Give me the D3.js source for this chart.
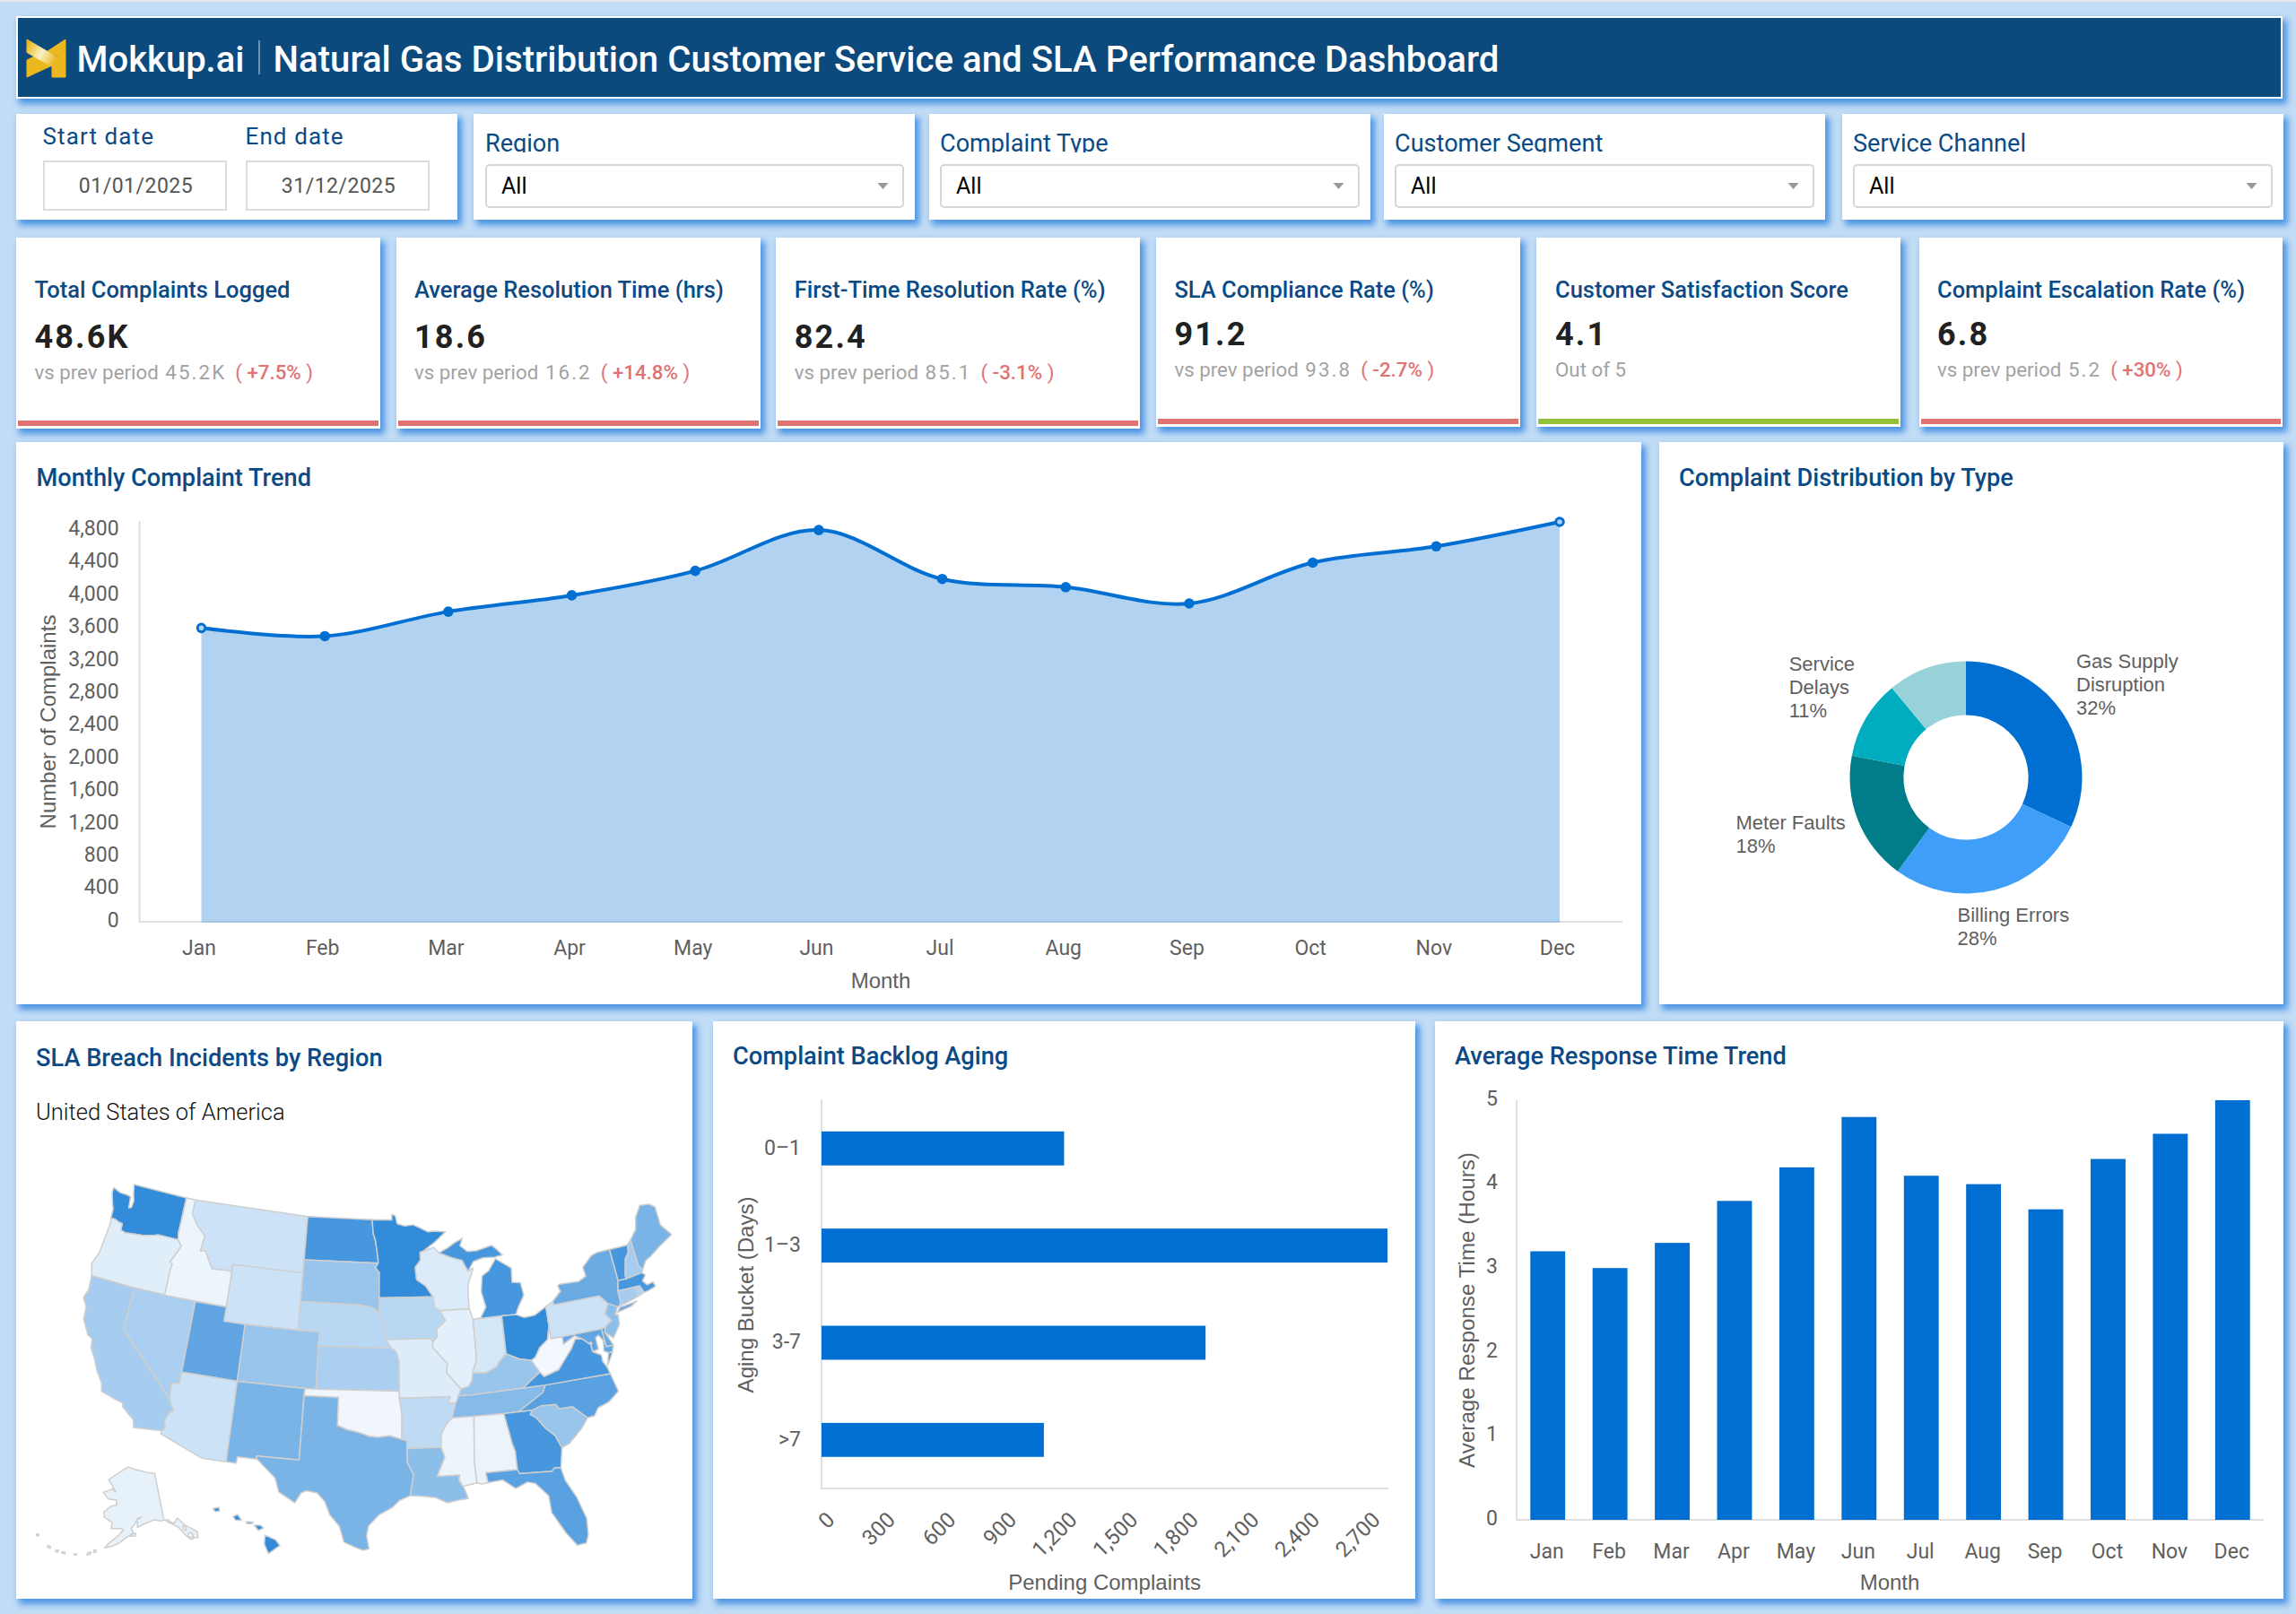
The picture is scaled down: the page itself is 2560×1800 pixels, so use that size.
<!DOCTYPE html>
<html><head><meta charset="utf-8">
<script src="https://cdn.jsdelivr.net/npm/d3@7/dist/d3.min.js"></script>
<style>
html,body{margin:0;padding:0;background:#c2dcf5;width:2560px;height:1800px;overflow:hidden}
#stripe{position:absolute;left:0;top:0;width:2560px;height:2px;background:#e6e6e6}
.card{position:absolute;background:#fff;box-shadow:4px 5px 7px 1px #4b94e4}
#overlay{position:absolute;left:0;top:0}
text{font-family:Roboto,sans-serif}
</style></head><body><div id="stripe"></div><svg id="overlay" width="2560" height="1800"></svg>
<script>
// ---------- DATA ----------
const months=["Jan","Feb","Mar","Apr","May","Jun","Jul","Aug","Sep","Oct","Nov","Dec"];
const complaints=[3600,3500,3800,4000,4300,4800,4200,4100,3900,4400,4600,4900];
const complaintTicks=[0,400,800,1200,1600,2000,2400,2800,3200,3600,4000,4400,4800];
const responseHours=[3.2,3.0,3.3,3.8,4.2,4.8,4.1,4.0,3.7,4.3,4.6,5.0];
const responseTicks=[0,1,2,3,4,5];
const agingBuckets=["0–1","1–3","3-7",">7"];
const agingValues=[1200,2800,1900,1100];
const agingTicks=[0,300,600,900,1200,1500,1800,2100,2400,2700];
const pieValues=[32,28,18,11,11];
const pieColors=["#006fd1","#3f9ef8","#017d89","#00adbf","#97d2d9"];
const filterNames=["Region","Complaint Type","Customer Segment","Service Channel"];
const kpiTitles=["Total Complaints Logged","Average Resolution Time (hrs)","First-Time Resolution Rate (%)","SLA Compliance Rate (%)","Customer Satisfaction Score","Complaint Escalation Rate (%)"];
const kpiValues=["48.6K","18.6","82.4","91.2","4.1","6.8"];
const kpiPrev=["45.2K","16.2","85.1","93.8",null,"5.2"];
const kpiDelta=["+7.5%","+14.8%","-3.1%","-2.7%",null,"+30%"];
const kpiBars=["#e07272","#e07272","#e07272","#e07272","#93c13a","#e07272"];
// state → breach-intensity estimate read from shade (0-100)
const stateValues={WA:80,OR:12,CA:35,NV:33,ID:7,MT:20,WY:20,UT:62,AZ:20,CO:40,NM:52,ND:72,SD:40,NE:28,KS:33,OK:6,TX:52,MN:80,IA:28,MO:13,AR:25,LA:45,WI:14,IL:11,MI:72,IN:17,OH:80,KY:40,TN:48,MS:7,AL:8,GA:72,FL:65,SC:40,NC:65,VA:72,WV:5,PA:20,NY:58,ME:52,VT:72,NH:35,MA:72,RI:30,CT:35,NJ:45,DE:60,MD:62,DC:40,AK:10,HI:80};
// simplified state outlines as lon,lat rings (projected by d3.geoPath)
const stateRings={
WA:["-124.7,48.38 -123.9,48.17 -123.1,48.15 -122.75,48.1 -122.6,47.3 -122.35,47.4 -122.3,47.9 -122.5,48.3 -122.75,49 -117.03,49 -117.04,46.42 -116.92,45.99 -118.98,46 -119.3,45.93 -120.5,45.7 -121.2,45.65 -122.3,45.55 -122.75,45.65 -122.8,46.1 -123.2,46.15 -123.55,46.25 -124.05,46.27 -124.1,46.9 -124.4,47.4 -124.7,48"],
OR:["-124.05,46.27 -123.55,46.25 -123.2,46.15 -122.8,46.1 -122.75,45.65 -122.3,45.55 -121.2,45.65 -120.5,45.7 -119.3,45.93 -118.98,46 -116.92,45.99 -116.46,45.6 -116.85,44.95 -117.22,44.35 -116.95,44.2 -117.03,43.8 -117.03,42 -120,42 -124.21,42 -124.55,42.84 -124.15,43.7 -124.05,44.8 -123.95,45.9"],
CA:["-124.21,42 -120,42 -120,39 -114.63,35 -114.14,34.3 -114.45,34 -114.72,33.4 -114.52,33.03 -114.72,32.72 -117.12,32.53 -117.3,33.05 -118.4,33.75 -118.5,34.03 -119.2,34.15 -120.5,34.45 -120.65,34.98 -121.3,35.7 -121.9,36.6 -122.4,37.2 -122.5,37.8 -123,38 -123.75,38.95 -123.85,39.8 -124.35,40.4 -124.1,41"],
NV:["-120,42 -114.04,42 -114.05,36.2 -114.74,36.1 -114.63,35 -120,39"],
ID:["-117.03,42 -111.05,42 -111.05,44.48 -111.5,44.55 -112.3,44.5 -113,44.45 -113.45,44.95 -114,45.65 -114.5,45.55 -114.35,46.65 -115.3,47.25 -116.05,48 -116.05,49 -117.03,49 -117.04,46.42 -116.92,45.99 -116.46,45.6 -116.85,44.95 -117.22,44.35 -116.95,44.2 -117.03,43.8"],
MT:["-116.05,49 -104.05,49 -104.05,45.94 -104.05,45 -111.05,45 -111.05,44.48 -111.5,44.55 -112.3,44.5 -113,44.45 -113.45,44.95 -114,45.65 -114.5,45.55 -114.35,46.65 -115.3,47.25 -116.05,48"],
WY:["-111.05,45 -104.05,45 -104.05,43 -104.05,41 -109.05,41 -111.05,41 -111.05,42 -111.05,44.48"],
UT:["-114.04,42 -111.05,42 -111.05,41 -109.05,41 -109.05,37 -114.05,37 -114.05,36.2"],
CO:["-109.05,41 -104.05,41 -102.05,41 -102.05,40 -102.04,37 -103,37 -109.05,37"],
AZ:["-114.05,37 -109.05,37 -109.05,31.33 -111.07,31.33 -114.82,32.5 -114.72,32.72 -114.52,33.03 -114.72,33.4 -114.45,34 -114.14,34.3 -114.63,35 -114.74,36.1 -114.05,36.2"],
NM:["-109.05,37 -103,37 -103.04,36.5 -103.05,32 -106.62,32 -106.53,31.78 -108.2,31.78 -108.2,31.33 -109.05,31.33"],
ND:["-104.05,49 -97.23,49 -97.1,48 -96.85,47.5 -96.6,46.3 -96.56,45.94 -104.05,45.94"],
SD:["-104.05,45.94 -96.56,45.94 -96.85,45.6 -96.45,45.3 -96.45,43.5 -96.45,42.49 -97.2,42.85 -98.5,43 -104.05,43 -104.05,45"],
NE:["-104.05,43 -98.5,43 -97.2,42.85 -96.45,42.49 -96.1,41.7 -95.85,41 -95.77,40.59 -95.31,40 -102.05,40 -102.05,41 -104.05,41"],
KS:["-102.05,40 -95.31,40 -94.9,39.8 -94.61,39.1 -94.62,37 -102.04,37"],
OK:["-103,37 -102.04,37 -94.62,37 -94.62,36.5 -94.43,35.4 -94.48,33.64 -95.5,33.9 -96.5,33.8 -97.2,33.85 -98.1,34.1 -99.2,34.3 -100,34.56 -100,36.5 -103.04,36.5"],
TX:["-106.62,32 -103.05,32 -103.04,36.5 -100,36.5 -100,34.56 -99.2,34.3 -98.1,34.1 -97.2,33.85 -96.5,33.8 -95.5,33.9 -94.48,33.64 -94.04,33.55 -94.04,33 -94.04,32 -93.55,31.2 -93.85,29.7 -94.7,29.4 -95.3,28.9 -96.4,28.35 -97.2,27.6 -97.35,26.9 -97.15,25.96 -97.6,25.85 -98.25,26.07 -99.1,26.4 -99.5,27.5 -100.3,28.3 -100.75,29.2 -101.4,29.77 -102.3,29.88 -102.7,29.7 -103.15,28.98 -104.5,29.65 -104.9,30.6 -106,31.4 -106.53,31.78"],
MN:["-97.23,49 -95.15,49 -95.15,49.38 -94.8,49.3 -94.6,48.72 -93.8,48.55 -92.95,48.62 -92,48.3 -91.4,48.07 -90.75,48.1 -89.6,48 -90.8,47.3 -92.05,46.7 -92.3,46.66 -92.3,46.1 -92.85,45.6 -92.75,44.75 -91.9,44.3 -91.22,43.5 -96.45,43.5 -96.45,45.3 -96.85,45.6 -96.56,45.94 -96.6,46.3 -96.85,47.5 -97.1,48"],
IA:["-96.45,43.5 -91.22,43.5 -91.1,42.7 -90.64,42.5 -90.15,41.8 -91.05,41.2 -91,40.7 -91.42,40.38 -91.72,40.6 -95.77,40.59 -95.85,41 -96.1,41.7 -96.45,42.49"],
MO:["-95.77,40.59 -91.72,40.6 -91.42,40.38 -91.5,40 -90.75,39.3 -90.2,38.8 -90.35,38.2 -89.5,37.3 -89.13,36.98 -89.4,36.5 -89.7,36 -90.38,36 -90.15,36.5 -94.62,36.5 -94.62,37 -94.61,39.1 -94.9,39.8 -95.31,40"],
AR:["-94.62,36.5 -90.15,36.5 -90.38,36 -89.7,36 -90.1,35 -90.6,34.6 -91.1,33.9 -91.17,33 -94.04,33 -94.04,33.55 -94.48,33.64 -94.43,35.4"],
LA:["-94.04,33 -91.17,33 -90.9,32.3 -91.6,31 -89.75,31 -89.85,30.65 -89.55,30.18 -89.4,29.9 -89.2,29.3 -89.9,29.25 -90.9,29.1 -91.8,29.5 -92.6,29.6 -93.85,29.7 -93.55,31.2 -94.04,32"],
WI:["-92.05,46.7 -90.9,46.95 -90.4,46.55 -89.1,46.14 -88.1,45.9 -87.6,45.1 -87.05,45.3 -87.7,44.2 -87.8,43.3 -87.8,42.49 -90.64,42.5 -91.1,42.7 -91.22,43.5 -91.9,44.3 -92.75,44.75 -92.85,45.6 -92.3,46.1 -92.3,46.66"],
IL:["-90.64,42.5 -87.8,42.49 -87.53,41.72 -87.53,39.3 -87.6,38.8 -88,38 -88.1,37.5 -88.45,37.1 -89.13,36.98 -89.5,37.3 -90.35,38.2 -90.2,38.8 -90.75,39.3 -91.5,40 -91.42,40.38 -91,40.7 -91.05,41.2 -90.15,41.8"],
IN:["-87.53,41.72 -87.2,41.76 -86.82,41.76 -84.8,41.76 -84.8,39.1 -85.4,38.7 -85.85,38.25 -86.8,37.95 -88,38 -87.6,38.8 -87.53,39.3"],
MI:["-86.82,41.76 -84.8,41.76 -83.45,41.73 -83.15,42.2 -82.45,43 -82.6,43.9 -83.4,44 -83.3,45 -84.75,45.78 -85.55,45 -86.25,44.7 -86.5,43.6 -86.2,42.5","-90.4,46.55 -89.1,46.14 -88.1,45.9 -87.6,45.1 -87,45.75 -86,45.95 -84.8,45.9 -84,46 -84.6,46.5 -85,46.75 -86.5,46.5 -87.5,46.5 -88.2,46.95 -87.9,47.45 -88.7,47.2 -89.5,46.85"],
OH:["-84.8,41.76 -83.45,41.73 -82.7,41.45 -81.7,41.5 -80.52,41.98 -80.52,40.64 -80.85,39.7 -81.7,39.2 -82.2,38.6 -82.6,38.42 -83.7,38.65 -84.8,39.1"],
KY:["-89.4,36.5 -89.13,36.98 -88.45,37.1 -88.1,37.5 -88,38 -86.8,37.95 -85.85,38.25 -85.4,38.7 -84.8,39.1 -83.7,38.65 -82.6,38.42 -82,37.53 -83.67,36.6 -88.07,36.5"],
TN:["-90.1,35 -89.7,36 -89.4,36.5 -88.07,36.5 -83.67,36.6 -81.68,36.59 -82,36.1 -84.32,35 -85.6,35 -88.2,35"],
MS:["-91.17,33 -90.9,32.3 -91.6,31 -89.75,31 -89.85,30.65 -89.55,30.18 -88.4,30.35 -88.47,31.9 -88.2,35 -90.1,35 -90.6,34.6 -91.1,33.9"],
AL:["-88.2,35 -85.6,35 -85.18,32.87 -85,32.3 -85,31 -87.6,31 -87.5,30.3 -88,30.25 -88.4,30.35 -88.47,31.9"],
GA:["-85.6,35 -84.32,35 -83.1,35 -83.35,34.7 -82.9,34.45 -82.2,33.6 -81.5,33 -81.1,32.1 -81.45,30.72 -81.98,30.78 -82.2,30.57 -84.86,30.7 -85,31 -85,32.3 -85.18,32.87"],
FL:["-87.6,31 -85,31 -84.86,30.7 -82.2,30.57 -81.98,30.78 -81.45,30.72 -81.25,29.8 -80.55,28.5 -80.05,26.9 -80.15,25.75 -80.4,25.2 -81.1,25.15 -81.8,26.1 -82.7,27.7 -82.75,28.9 -83.7,29.9 -84.3,30.05 -85.3,29.7 -86.3,30.4 -87.5,30.3"],
SC:["-83.1,35 -82.3,35.2 -81.05,35.15 -80.8,34.82 -79.65,34.8 -78.55,33.86 -79.2,33.2 -80.45,32.3 -81.1,32.1 -81.5,33 -82.2,33.6 -82.9,34.45 -83.35,34.7"],
NC:["-84.32,35 -82,36.1 -81.68,36.59 -75.87,36.55 -75.5,35.25 -76.5,34.65 -77.5,34.4 -77.95,33.9 -78.55,33.86 -79.65,34.8 -80.8,34.82 -81.05,35.15 -82.3,35.2 -83.1,35"],
VA:["-83.67,36.6 -81.68,36.59 -75.87,36.55 -76,37 -76.3,37.5 -76.3,37.95 -77,38.3 -77.04,38.8 -77.72,39.32 -78.35,39.4 -78.87,38.77 -79.3,38.42 -80.3,37.5 -81.68,37.2 -82,37.53","-75.95,37.15 -75.6,37.55 -75.25,38.03 -75.62,37.99"],
WV:["-82,37.53 -82.6,38.42 -82.2,38.6 -81.7,39.2 -80.85,39.7 -80.52,40.64 -80.52,39.72 -79.48,39.72 -79.48,39.2 -78.35,39.63 -77.72,39.32 -78.35,39.4 -78.87,38.77 -79.3,38.42 -80.3,37.5 -81.68,37.2"],
PA:["-80.52,41.98 -80.52,40.64 -80.52,39.72 -75.79,39.72 -75.4,39.8 -74.72,40.15 -75.18,40.7 -74.7,41.36 -75.35,42 -79.76,42 -79.76,42.27"],
MD:["-79.48,39.72 -75.79,39.72 -75.7,38.46 -75.05,38.45 -75.25,38.03 -75.62,37.99 -76,38.2 -75.85,38.9 -76.2,39.35 -76.5,39.2 -76.45,38.4 -77,38.3 -77.04,38.8 -77.72,39.32 -78.35,39.63 -79.48,39.2"],
DE:["-75.79,39.72 -75.4,39.8 -75.55,39.45 -75.05,38.45 -75.7,38.46"],
NJ:["-75.4,39.8 -74.72,40.15 -75.18,40.7 -74.7,41.36 -73.9,41 -74.25,40.47 -74,40.45 -74.1,39.75 -74.9,38.93 -75.55,39.45"],
NY:["-79.76,42.27 -79.76,42 -75.35,42 -74.7,41.36 -73.9,41 -73.65,41 -73.5,41.3 -73.5,42.05 -73.25,42.75 -73.35,45 -74.7,45 -75.3,44.85 -76.3,44.2 -76.2,43.55 -77,43.28 -78.9,43.35 -79.05,43.25 -78.9,42.85","-74,40.6 -73.7,40.9 -72,41.05 -72.6,40.8"],
VT:["-73.35,45 -71.5,45 -71.6,44.5 -72.05,44.1 -72.45,43 -72.46,42.73 -73.25,42.75"],
NH:["-71.5,45 -71.08,45.3 -70.98,43.4 -70.7,43.05 -70.85,42.87 -72.46,42.73 -72.45,43 -72.05,44.1 -71.6,44.5"],
ME:["-71.08,45.3 -70.3,45.9 -70,46.7 -69.23,47.46 -68.3,47.35 -67.79,47.06 -67.79,45.7 -67,44.85 -68.5,44.3 -69.5,43.85 -70.2,43.6 -70.7,43.05 -70.98,43.4"],
MA:["-73.5,42.05 -73.25,42.75 -72.46,42.73 -70.85,42.87 -70.6,42.65 -71,42.3 -70.65,41.95 -70.05,42.05 -69.95,41.7 -70.65,41.55 -71.12,41.5 -71.38,42.02 -71.8,42.02"],
CT:["-73.5,42.05 -71.8,42.02 -71.85,41.32 -73.65,41 -73.5,41.3"],
RI:["-71.8,42.02 -71.38,42.02 -71.12,41.5 -71.85,41.32"],
DC:["-77.12,38.93 -77.04,39 -76.91,38.89 -77.04,38.8"],
AK:["-141,69.65 -141,60.3 -139.8,59.6 -137.5,58.6 -136,57.9 -134.5,56.2 -133,54.9 -131.5,55 -130.5,54.8 -130,56 -133.5,58 -135.5,59.8 -137.5,58.9 -139.5,60 -142.5,60 -145,60.4 -148,60 -149.5,59.7 -151.8,59.2 -151.8,60.7 -150,61.2 -151.5,61 -153,59.8 -154.2,59 -153.5,58.1 -156.5,57 -158.5,56 -161,55.2 -163.5,54.7 -162,55.9 -159,57.5 -157.2,58.7 -158.5,58.9 -162,58.7 -162,60 -165.3,60.7 -166,61.7 -163.5,63.1 -161,63.5 -161,64.5 -165,64.5 -168,65.6 -164,66.6 -162,66.1 -163.8,67.1 -166.5,68.3 -163,69.6 -160,70.5 -156.6,71.35 -152,70.85 -148,70.4 -145,70","-154.8,57.4 -152.4,57.5 -152.5,58 -153.9,57.9","-169,52.7 -168,52.9 -167.8,53.4 -168.8,53.2","-166.9,53.4 -166.2,53.5 -166.2,54 -167,53.9","-173,52.1 -172.2,52.1 -172.3,52.3 -173,52.3","-177,51.6 -176,51.7 -176,52 -177,51.9","-179,51.4 -178.2,51.5 -178.2,51.9 -179,51.8","178,51.6 179,51.6 179,52 178,52","173,52.8 173.8,52.8 173.8,53.1 173,53.1","-134.5,57.2 -133.6,56.9 -133.6,57.7 -134.3,58","-133.5,55.5 -132,55.2 -132,56.2 -133.2,56.3"],
HI:["-155.9,20.25 -155.1,19.9 -154.8,19.5 -155.65,18.95 -155.95,19.6","-156.7,20.95 -156.25,20.95 -156,20.75 -156.4,20.58","-158.28,21.55 -157.95,21.7 -157.65,21.3 -158.1,21.3","-159.8,22.1 -159.35,22.2 -159.3,21.95 -159.6,21.88","-157.3,21.2 -156.75,21.17 -156.9,21.05 -157.25,21.08"]
};

// ---------- LAYOUT ----------
const svg=d3.select("#overlay");
const navy="#0c4a85", grey="#5f5f5f", axisCol="#e0e0e0";
function card(x0,y0,x1,y1,extra){
  const d=document.createElement("div");d.className="card";
  d.style.cssText=`left:${x0}px;top:${y0}px;width:${x1-x0}px;height:${y1-y0}px;${extra||""}`;
  document.body.insertBefore(d,document.getElementById("overlay"));
}
function txt(parent,x,y,s,o={}){
  return parent.append("text").attr("x",x).attr("y",y).attr("dominant-baseline","central")
    .attr("text-anchor",o.anchor||"start").attr("fill",o.fill||"#000")
    .style("font-size",(o.size||23)+"px").style("font-weight",o.weight||400)
    .style("font-family",o.font||"Roboto").style("letter-spacing",o.ls||null).text(s);
}
const arial="'Liberation Sans'";

// header
card(18,18,2545,110,"background:#0c4a7e;border:2px solid #fff;box-sizing:border-box");
const lg=svg.append("linearGradient").attr("id","logoBand").attr("gradientUnits","userSpaceOnUse")
  .attr("x1",30).attr("y1",51).attr("x2",62).attr("y2",68);
lg.append("stop").attr("offset",0).attr("stop-color","#ecb81f");
lg.append("stop").attr("offset",.5).attr("stop-color","#faf0c4");
lg.append("stop").attr("offset",1).attr("stop-color","#ecb81f");
const logoShapes=[
 ["#ecb81f","30,67 44,60 60,72 30,86"],
 ["#ecb81f","73,44 73,86 58,86 58,68 66,64 53,57"],
 ["url(#logoBand)","30,44 65,64.5 59.5,75 30,58.5"]];
svg.append("g").selectAll("polygon").data(logoShapes).join("polygon").attr("fill",d=>d[0]).attr("points",d=>d[1]).attr("stroke",d=>d[0]).attr("stroke-width",1).attr("stroke-linejoin","round");
txt(svg,85.5,66,"Mokkup.ai",{size:40,weight:500,fill:"#fff"});
svg.append("line").attr("x1",289).attr("x2",289).attr("y1",45).attr("y2",83).attr("stroke","#cfd9e3").attr("stroke-width",1);
txt(svg,304.5,66,"Natural Gas Distribution Customer Service and SLA Performance Dashboard",{size:40.2,weight:500,fill:"#fff"});

// filters
card(18,127,510,245);
const dateBoxes=[[48,253,"Start date","01/01/2025"],[274,479,"End date","31/12/2025"]];
dateBoxes.forEach(b=>{
  txt(svg,b[0]-0.5,152,b[2],{size:26,fill:navy,ls:"1.1px"});
  svg.append("rect").attr("x",b[0]+1).attr("y",180).attr("width",b[1]-b[0]-2).attr("height",54).attr("fill","#fff").attr("stroke","#dcdcdc").attr("stroke-width",2);
  txt(svg,(b[0]+b[1])/2+1,207.5,b[3],{size:23,fill:"#555",anchor:"middle",ls:"0.5px"});
});
const filterCards=[[528,1020,541,1008],[1036,1528,1048,1516],[1543,2035,1555,2023],[2054,2546,2066,2534]];
svg.append("clipPath").attr("id","labelClip").append("rect").attr("x",0).attr("y",120).attr("width",2560).attr("height",50);
filterCards.forEach((c,i)=>{
  card(c[0],127,c[1],245);
  txt(svg,c[2],160,filterNames[i],{size:27.1,fill:navy}).attr("clip-path","url(#labelClip)");
  svg.append("rect").attr("x",c[2]+1).attr("y",184).attr("width",c[3]-c[2]-2).attr("height",47).attr("rx",4).attr("fill","#fff").attr("stroke","#d6d6d6").attr("stroke-width",2);
  txt(svg,c[2]+18,207.5,"All",{size:25,fill:"#000"});
  const ax=c[3]-23.5;
  svg.append("path").attr("d",`M${ax-6},204 h12 l-6,7 z`).attr("fill","#999");
});

// KPI cards
const kpiX=[[18,424,38.4],[442,848,462],[865,1271,885.7],[1289,1695,1309.4],[1713,2119,1734],[2140,2545,2160]];
kpiX.forEach((k,i)=>{
  const off=i<3?0:-2;
  card(k[0],265,k[1],478+off);
  txt(svg,k[2],323,kpiTitles[i],{size:25.5,weight:500,fill:navy});
  txt(svg,k[2],375.5+off*1.2,kpiValues[i],{size:36,weight:700,fill:"#212121",ls:"2.2px"});
  const t=txt(svg,k[2],414.5+off*1.2,"",{size:22.3,fill:"#a3a3a3"});
  if(kpiPrev[i]){
    t.append("tspan").text("vs prev period ");
    t.append("tspan").attr("dx",2).style("letter-spacing","2.1px").text(kpiPrev[i]);
    t.append("tspan").attr("dx",10).attr("fill","#e07272").text("( ");
    t.append("tspan").attr("fill","#e07272").style("font-weight",500).text(kpiDelta[i]);
    t.append("tspan").attr("fill","#e07272").text(" )");
  } else t.text("Out of 5");
  svg.append("rect").attr("x",k[0]+2).attr("y",469+off).attr("width",k[1]-k[0]-4).attr("height",6).attr("fill",kpiBars[i]);
});

// chart helpers
function styleAxis(g,size){
  g.select(".domain").remove();
  g.selectAll(".tick line").remove();
  g.selectAll("text").attr("fill",grey).style("font-size",size+"px").style("font-family","Roboto");
}
function hLine(x0,x1,y){svg.append("line").attr("x1",x0).attr("x2",x1).attr("y1",y).attr("y2",y).attr("stroke",axisCol).attr("stroke-width",2);}
function vLine(x,y0,y1){svg.append("line").attr("x1",x).attr("x2",x).attr("y1",y0).attr("y2",y1).attr("stroke",axisCol).attr("stroke-width",2);}
function vTitle(x,y,s,size){txt(svg,0,0,s,{size,fill:grey,anchor:"middle",font:arial}).attr("transform",`translate(${x},${y}) rotate(-90)`);}
function hTitle(x,y,s,size){txt(svg,x,y,s,{size,fill:grey,anchor:"middle",font:arial});}
const titleOpt={size:27.2,weight:500,fill:navy};

// Monthly trend
card(18,493,1830,1120);
txt(svg,40.5,533,"Monthly Complaint Trend",titleOpt);
const tX=d3.scalePoint().domain(months).range([224.5,1739]);
const tY=d3.scaleLinear().domain([0,4900]).range([1028,582]);
const curve=d3.curveCatmullRom.alpha(0.5);
svg.append("path").datum(complaints).attr("fill","#b1d2f1")
  .attr("d",d3.area().x((d,i)=>tX(months[i])).y0(tY(0)).y1(d=>tY(d)).curve(curve));
vLine(155.6,581,1029);hLine(155,1809,1028);
svg.append("rect").attr("x",tX("Jan")).attr("y",1027).attr("width",tX("Dec")-tX("Jan")).attr("height",2).attr("fill","#a9c5df");
svg.append("path").datum(complaints).attr("fill","none").attr("stroke","#006fd1").attr("stroke-width",4)
  .attr("d",d3.line().x((d,i)=>tX(months[i])).y(d=>tY(d)).curve(curve));
svg.selectAll(".pt").data(complaints).join("circle").attr("class","pt")
  .attr("cx",(d,i)=>tX(months[i])).attr("cy",d=>tY(d)).attr("r",(d,i)=>(i===0||i===11)?4.3:5.8)
  .attr("fill",(d,i)=>(i===0||i===11)?"#b1d2f1":"#006fd1").attr("stroke","#006fd1").attr("stroke-width",(d,i)=>(i===0||i===11)?3:0);
svg.append("g").attr("transform","translate(155.6,0)")
  .call(d3.axisLeft(tY).tickValues(complaintTicks).tickFormat(d3.format(",")).tickSize(0).tickPadding(23))
  .call(g=>styleAxis(g,23)).selectAll("text").attr("dy","0.23em");
svg.append("g").attr("transform","translate(-3,1028)")
  .call(d3.axisBottom(tX).tickSize(0).tickPadding(20.5)).call(g=>styleAxis(g,23));
vTitle(53.6,805,"Number of Complaints",24);
hTitle(982,1093,"Month",24);

// Donut
card(1850,493,2546,1120);
txt(svg,1872,533,"Complaint Distribution by Type",titleOpt);
const pieG=svg.append("g").attr("transform","translate(2192,867)");
pieG.selectAll("path").data(d3.pie().sort(null)(pieValues)).join("path")
  .attr("d",d3.arc().innerRadius(69.6).outerRadius(129.5)).attr("fill",(d,i)=>pieColors[i]);
const pieLabels=[["Gas Supply","Disruption","32%",2315,737],["Service","Delays","11%",1994.7,740.4],["Meter Faults","18%",null,1935.5,917],["Billing Errors","28%",null,2182.5,1020]];
pieLabels.forEach(l=>{[l[0],l[1],l[2]].forEach((s,j)=>{if(s)txt(svg,l[3],l[4]+j*26.2,s,{size:22,fill:grey,font:arial});});});

// Map
card(18,1138.5,772,1782.5);
txt(svg,40,1180,"SLA Breach Incidents by Region",titleOpt);
txt(svg,40,1240,"United States of America",{size:25.5,weight:300,fill:"#111"});
const toFeature=(id,rings)=>{
  const polys=rings.map(r=>{
    let c=r.split(" ").map(p=>p.split(",").map(Number));c.push(c[0]);
    if(d3.geoArea({type:"Polygon",coordinates:[c]})>2*Math.PI)c.reverse();
    return [c];});
  return {type:"Feature",id,geometry:{type:"MultiPolygon",coordinates:polys}};
};
const feats=Object.keys(stateRings).map(k=>toFeature(k,stateRings[k]));
const lower48={type:"FeatureCollection",features:feats.filter(f=>f.id!=="AK"&&f.id!=="HI")};
const pMain=d3.geoAlbers().fitExtent([[89,1321],[753,1729]],lower48);
const K=pMain.scale(),T=pMain.translate();
const pAK=d3.geoConicEqualArea().rotate([154,0]).center([-2,58.5]).parallels([55,65]).scale(K*.35).translate([T[0]-.307*K,T[1]+.201*K]);
const pHI=d3.geoConicEqualArea().rotate([157,0]).center([-3,19.9]).parallels([8,18]).scale(K).translate([T[0]-.205*K,T[1]+.212*K]);
const mapColor=d3.scaleLinear().domain([0,100]).range(["#ffffff","#006fd1"]);
const pathFor={AK:d3.geoPath(pAK),HI:d3.geoPath(pHI)},pathMain=d3.geoPath(pMain);
svg.append("g").style("filter","blur(0.5px)").selectAll("path").data(feats).join("path")
  .attr("d",f=>(pathFor[f.id]||pathMain)(f)).attr("fill",f=>mapColor(stateValues[f.id]))
  .attr("stroke","#cfcfcf").attr("stroke-width",1.5).attr("stroke-linejoin","round");

// Backlog
card(795,1138.5,1578,1782.5);
txt(svg,817,1178,"Complaint Backlog Aging",titleOpt);
const aY=d3.scaleBand().domain(agingBuckets).range([1226.6,1660]).paddingInner(.65).paddingOuter(.325);
const aX=d3.scaleLinear().domain([0,2800]).range([916,1547]);
vLine(916,1226,1661);hLine(915,1548,1660);
svg.selectAll(".abar").data(agingValues).join("rect").attr("class","abar")
  .attr("x",aX(0)).attr("y",(d,i)=>aY(agingBuckets[i])).attr("height",aY.bandwidth()).attr("width",d=>aX(d)-aX(0)).attr("fill","#006fd1");
svg.append("g").attr("transform","translate(916,0)")
  .call(d3.axisLeft(aY).tickSize(0).tickPadding(23)).call(g=>styleAxis(g,23)).selectAll("text").attr("dy","0.3em");
svg.append("g").attr("transform","translate(0,1660)")
  .call(d3.axisBottom(aX).tickValues(agingTicks).tickFormat(d3.format(",")).tickSize(0)).call(g=>styleAxis(g,24))
  .selectAll("text").attr("y",0).attr("dy","0.32em").attr("text-anchor","end").attr("transform","translate(10,31) rotate(-45)");
vTitle(831,1444,"Aging Bucket (Days)",24);
hTitle(1231.6,1764,"Pending Complaints",24);

// Response
card(1600,1138.5,2546,1782.5);
txt(svg,1622,1178,"Average Response Time Trend",titleOpt);
const rX=d3.scaleBand().domain(months).range([1691,2524]).paddingInner(.44).paddingOuter(.22);
const rY=d3.scaleLinear().domain([0,5]).range([1695,1227]);
vLine(1691,1227,1696);hLine(1690,2524,1695);
svg.selectAll(".rbar").data(responseHours).join("rect").attr("class","rbar")
  .attr("x",(d,i)=>rX(months[i])).attr("y",d=>rY(d)).attr("width",rX.bandwidth()).attr("height",d=>rY(0)-rY(d)).attr("fill","#006fd1");
svg.append("g").attr("transform","translate(1691,0)")
  .call(d3.axisLeft(rY).tickValues(responseTicks).tickFormat(d3.format("d")).tickSize(0).tickPadding(21))
  .call(g=>styleAxis(g,23)).selectAll("text").attr("dy","0.23em");
svg.append("g").attr("transform","translate(-1,1695)")
  .call(d3.axisBottom(rX).tickSize(0).tickPadding(26.5)).call(g=>styleAxis(g,23));
vTitle(1635,1461,"Average Response Time (Hours)",24.2);
hTitle(2107,1764,"Month",24);
</script></body></html>
